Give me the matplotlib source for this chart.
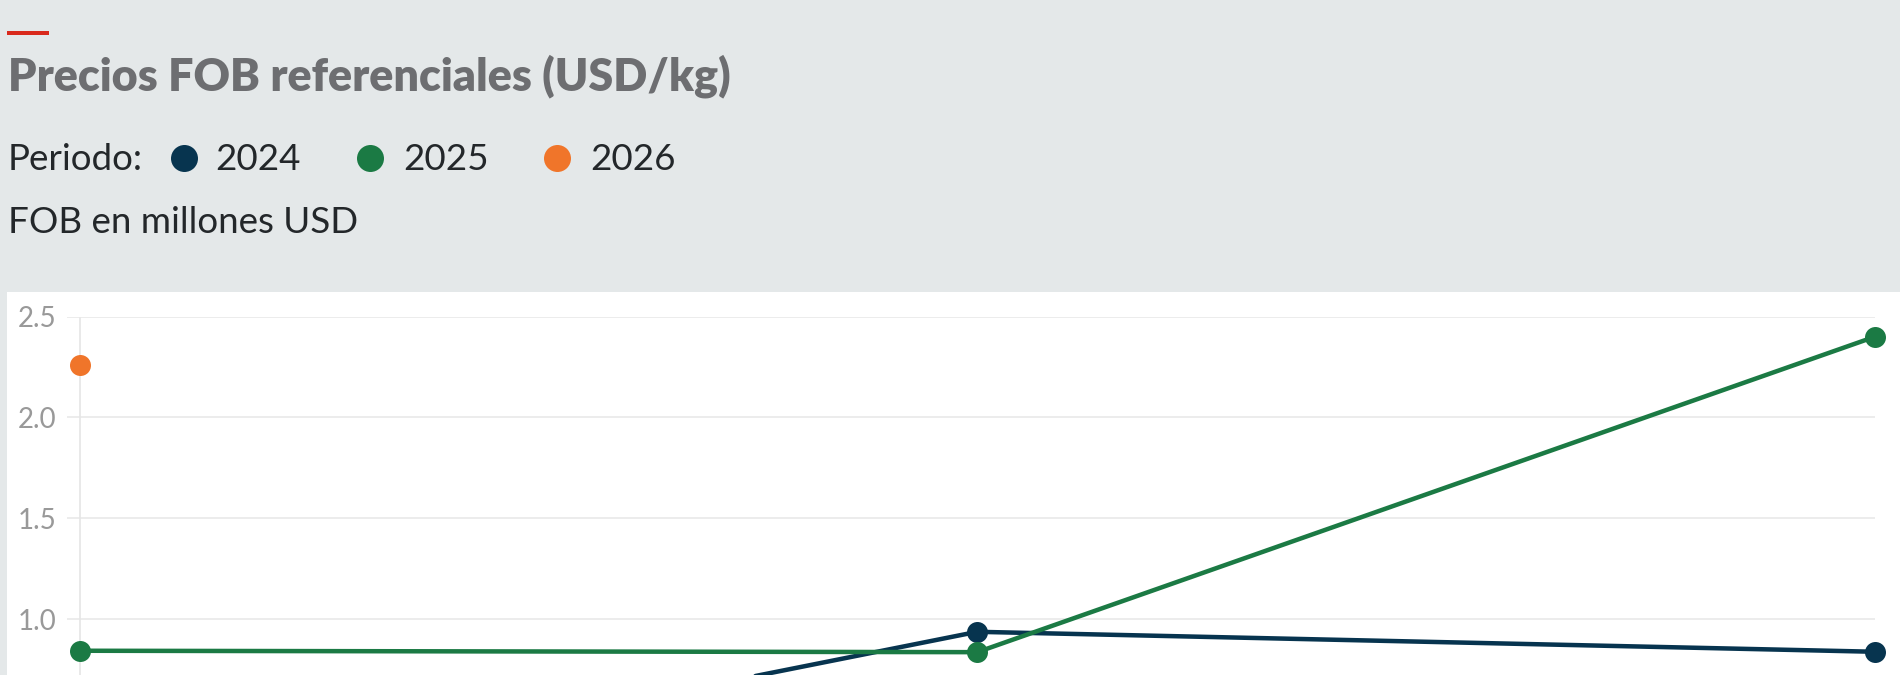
import matplotlib
matplotlib.use("Agg")
import matplotlib.pyplot as plt
from matplotlib.patches import Rectangle
from matplotlib.lines import Line2D

# ---- data ----
categories = ["P1", "P2", "P3"]
periods = ["2024", "2025", "2026"]
values_2024 = [0.05, 0.937, 0.838]
values_2025 = [0.843, 0.836, 2.40]
values_2026 = [2.26]
yticks = [1.0, 1.5, 2.0, 2.5]
title = "Precios FOB referenciales (USD/kg)"
legend_label = "Periodo:"
subtitle = "FOB en millones USD"

colors = {"2024": "#07344f", "2025": "#1b7a44", "2026": "#f0752a"}
BG = "#e4e8e9"

W, H = 1900, 675
DPI = 100
fig = plt.figure(figsize=(W / DPI, H / DPI), dpi=DPI, facecolor=BG)

def fx(x):
    return x / W

def fy(y):
    return 1 - y / H

PX = 72 / DPI  # points per pixel

# white panel
fig.add_artist(Rectangle((fx(7), 0), 1 - fx(7), fy(292), transform=fig.transFigure,
                         facecolor="white", edgecolor="none", zorder=-10))
# red bar
fig.add_artist(Rectangle((fx(7), fy(34.7)), fx(49) - fx(7), fy(31) - fy(34.7),
                         transform=fig.transFigure, facecolor="#d9291c",
                         edgecolor="none", zorder=1))

# title
fig.text(fx(8), fy(90.7), title, fontsize=32.3, fontweight="heavy", family="Lato",
         color="#6d6e71", va="baseline", ha="left")

body_font = dict(family="Lato", fontweight="normal", color="#23272a")
fig.text(fx(8), fy(170), legend_label, fontsize=26.5, va="baseline", ha="left", **body_font)
leg_circ_x = [183.7, 370.4, 557]
leg_text_x = [215, 403, 590]
for p, cx, tx in zip(periods, leg_circ_x, leg_text_x):
    fig.add_artist(Line2D([fx(cx)], [fy(157.7)], transform=fig.transFigure, marker="o",
                          ms=27 * PX, markeredgewidth=0, color=colors[p], linestyle="none"))
    fig.text(fx(tx), fy(170), p, fontsize=26.5, va="baseline", ha="left", **body_font)
fig.text(fx(8), fy(233.3), subtitle, fontsize=26.5, va="baseline", ha="left", **body_font)

# axes: value 2.5 at y=316.7px, 0.5 per 100.8px
y25 = 316.7
ppu = 201.6
y0 = y25 + 2.5 * ppu
ax_left, ax_right = 67, 1875
x0px, x2px = 80, 1874.5
unit = (x2px - x0px) / 2
ax = fig.add_axes([fx(ax_left), fy(y0), fx(ax_right - ax_left), fy(y25) - fy(y0)])
ax.set_facecolor("none")
ax.set_xlim(-(x0px - ax_left) / unit, (ax_right - x0px) / unit)
ax.set_ylim(0, 2.5)
for s in ax.spines.values():
    s.set_visible(False)
ax.set_yticks(yticks)
ax.set_yticklabels([f"{v:.1f}" for v in yticks])
ax.tick_params(axis="y", length=0, pad=11 * PX, labelsize=20, labelcolor="#999999")
for lab in ax.get_yticklabels():
    lab.set_family("Lato")
    lab.set_fontweight("normal")
ax.set_xticks(range(len(categories)))
ax.set_xticklabels(categories)
ax.tick_params(axis="x", length=0, labelbottom=False)
ax.grid(axis="y", color="#e6e6e6", lw=1.5 * PX)
ax.axvline(0, color="#e3e3e3", lw=1.5 * PX, ymax=(2.5 - 0.006) / 2.5, zorder=0)

lw = 4.5 * PX
ms = 21 * PX
for p, vals in zip(periods, [values_2024, values_2025, values_2026]):
    xs = list(range(len(vals)))
    ax.plot(xs, vals, color=colors[p], lw=lw, marker="o", ms=ms,
            markeredgewidth=0, clip_on=False, zorder=3, solid_capstyle="round")

fig.savefig("out.png", dpi=DPI, facecolor=BG)
